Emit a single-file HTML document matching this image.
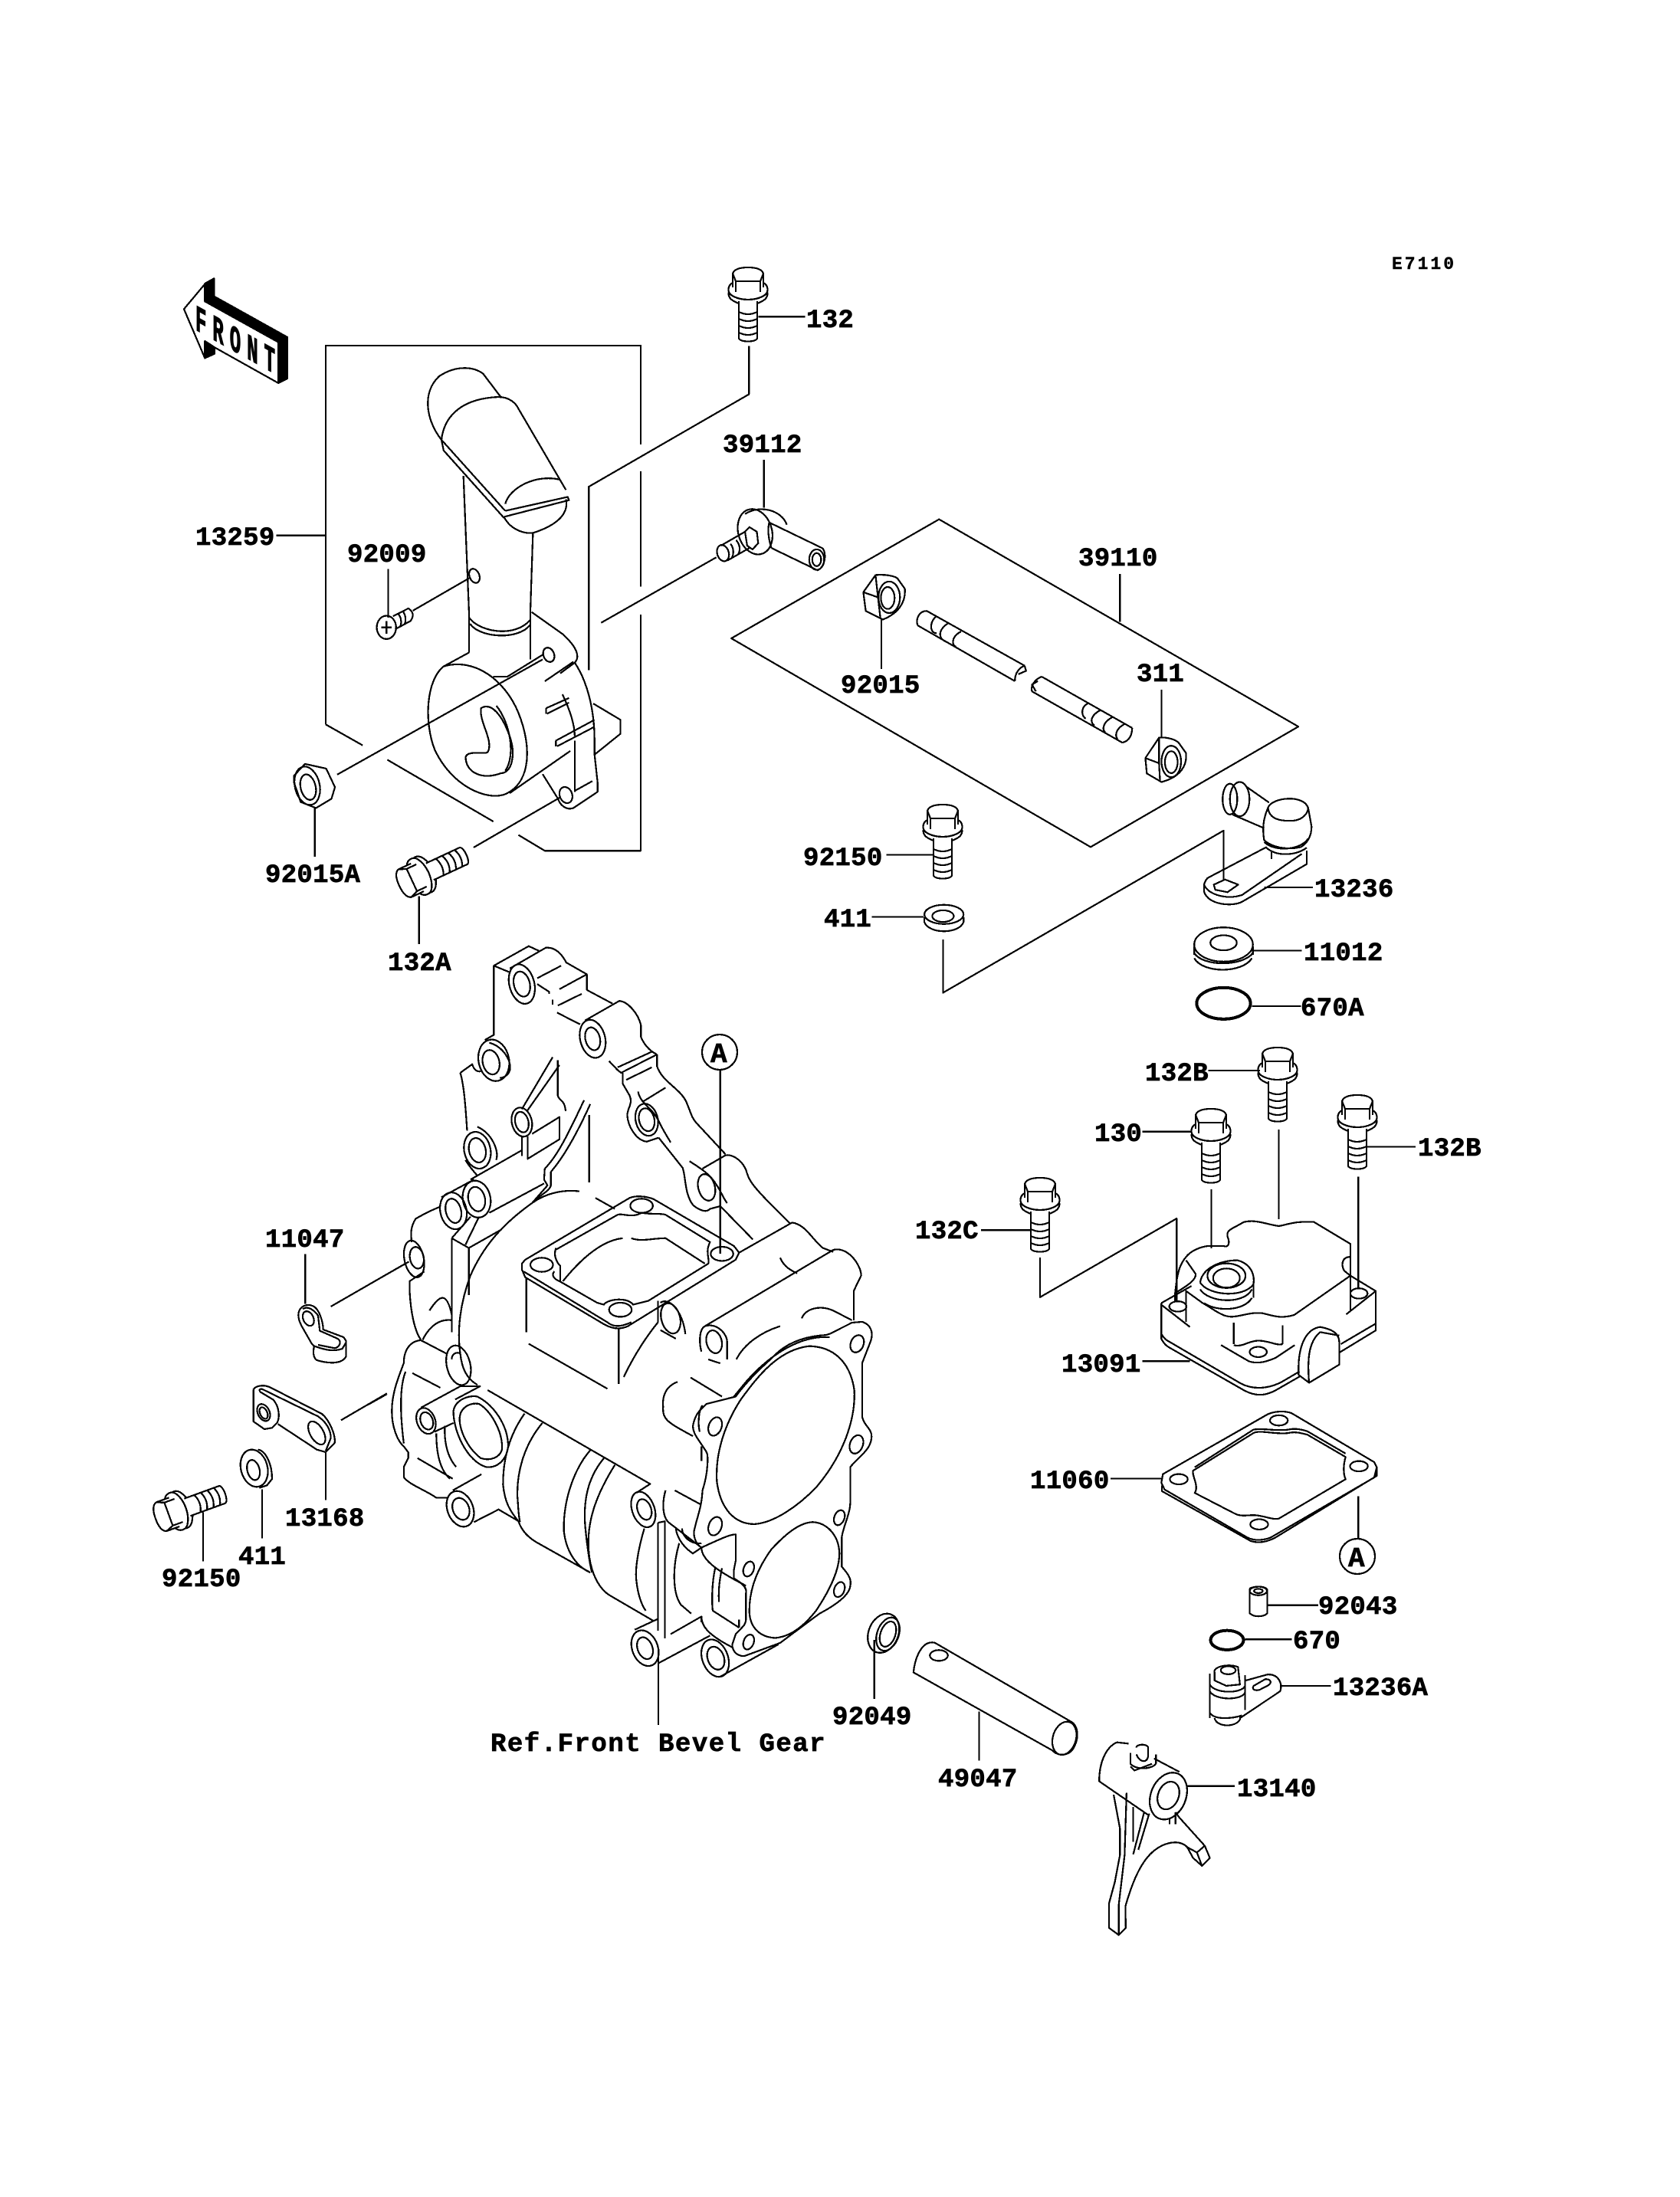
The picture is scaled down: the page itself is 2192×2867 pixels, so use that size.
<!DOCTYPE html>
<html><head><meta charset="utf-8"><title>Diagram</title>
<style>
html,body{margin:0;padding:0;background:#fff}
svg{display:block}
path,ellipse{vector-effect:non-scaling-stroke;fill:none;stroke:#000;stroke-width:2.2;stroke-linejoin:round;stroke-linecap:butt;shape-rendering:crispEdges}
.t{font:bold 34px "Liberation Mono",monospace;fill:#000;stroke:#000;stroke-width:.7;letter-spacing:.3px}
</style></head><body>
<svg xmlns="http://www.w3.org/2000/svg" width="2192" height="2867" viewBox="0 0 2192 2867">
<rect width="2192" height="2867" fill="#fff"/>
<defs>
<g id="b">
<path d="M-20,8L-16,18H16L20,8C18,2 10,0 0,0C-10,0 -18,2 -20,8Z"/>
<path d="M-20,8V26M-16,18V32M16,18V32M20,8V26"/>
<path d="M-20,20C-27,24 -27,32 -22,36C-10,44 10,44 22,36C27,32 27,24 20,20"/>
<path d="M-25,32C-27,40 -20,44 -12,47M25,32C27,40 20,44 12,47"/>
<path d="M-12,44V92C-12,98 12,98 12,92V44"/>
<path d="M-12,58Q0,64 12,58M-12,67Q0,73 12,67M-12,76Q0,82 12,76M-12,85Q0,91 12,85"/>
</g>
</defs>

<!-- bolts -->
<use href="#b" transform="translate(976,349)"/>
<use href="#b" transform="translate(1230,1050)"/>
<use href="#b" transform="translate(1580,1447)"/>
<use href="#b" transform="translate(1667,1367)"/>
<use href="#b" transform="translate(1771,1429)"/>
<use href="#b" transform="translate(1357,1537)"/>
<use href="#b" transform="translate(521,1156) rotate(-115)"/>
<use href="#b" transform="translate(203,1982) rotate(-110)"/>

<!-- zoom 1 region -->
<g transform="translate(200,300) scale(.574,.606)">
<path d="M392,1065L392,249L1108,249L1108,462M1108,520L1108,768M1108,828L1108,1337L890,1337L830,1303M773,1274L532,1141M476,1110L392,1065"/>
<path d="M1354,250V354L990,553V948M1375,187H1482M1388,495V598M1280,705L1018,846M280,658H392M534,730V835M590,820L718,750M367,1245V1350M418,1173L885,925M604,1435V1538M728,1330L925,1222"/>
<path d="M655,452C620,410 610,350 650,315C690,290 730,295 750,310L790,360M655,452C660,410 690,365 780,360C810,358 825,375 830,385L938,560"/>
<path d="M655,452L800,605M660,475L797,620M655,452L660,475M800,605L942,575L945,582L797,618M800,590C810,555 870,525 925,538M797,618C815,650 850,655 865,652C920,635 945,610 938,580"/>
<path d="M705,530L718,830V910M863,652L857,825V925M718,835C740,865 820,880 857,840M720,848C740,878 830,885 857,850"/>
<ellipse cx="730" cy="745" rx="11" ry="16" transform="rotate(-25 730 745)"/>
<path d="M660,940C620,970 615,1060 640,1120C680,1200 760,1230 800,1215C860,1190 860,1110 830,1040C800,970 730,920 660,940ZM660,940L718,910M773,962H805L885,915"/>
<path d="M860,823L930,870C965,900 970,920 958,932M925,955L958,932C985,970 1003,1030 1003,1100V1130L1010,1190V1210L955,1245C940,1250 925,1240 920,1225L885,1172M810,1213L948,1122"/>
<ellipse cx="899" cy="915" rx="12" ry="16" transform="rotate(-25 899 915)"/>
<ellipse cx="938" cy="1217" rx="14" ry="18" transform="rotate(-25 938 1217)"/>
<path d="M890,972L955,930M930,1000C950,1040 958,1070 958,1090M893,1030L945,1008M895,1042L945,1018M893,1030V1042M915,1100L1003,1055M918,1112L1003,1070M915,1100V1112M958,1100V1210M958,1208L998,1187M1000,1020L1062,1055V1085L1003,1130"/>
<path d="M745,1030C770,1015 795,1050 810,1090C825,1130 815,1170 790,1170C750,1185 710,1170 710,1135C715,1120 750,1130 760,1125C775,1100 740,1060 745,1030ZM780,1025C810,1060 825,1130 800,1165"/>
<path d="M320,1175L345,1150L393,1160L413,1200L405,1225L370,1245L335,1232L320,1190Z"/>
<ellipse cx="350" cy="1197" rx="28" ry="42" transform="rotate(-15 350 1197)"/>
<ellipse cx="352" cy="1200" rx="17" ry="28" transform="rotate(-15 352 1200)"/>
<ellipse cx="530" cy="856" rx="22" ry="25"/>
<path d="M518,856H542M530,842V870M545,832L580,815C595,825 590,835 585,842L550,860M556,826C565,835 565,850 560,855M567,821C575,830 575,845 570,850"/>
<ellipse cx="1295" cy="696" rx="13" ry="18" transform="rotate(-20 1295 696)"/>
<path d="M1290,680L1345,650M1305,712L1355,685M1312,676C1320,685 1320,698 1315,706M1325,668C1335,680 1335,692 1328,700"/>
<ellipse cx="1368" cy="650" rx="38" ry="50" transform="rotate(-20 1368 650)"/>
<path d="M1345,650L1355,640L1372,650L1375,675L1362,688L1350,680ZM1345,612C1380,590 1430,605 1440,635M1400,630L1520,685C1530,690 1530,725 1510,733L1405,685M1400,630C1395,650 1400,670 1405,685"/>
<ellipse cx="1508" cy="710" rx="17" ry="22"/>
<ellipse cx="1508" cy="710" rx="10" ry="14"/>
</g>

<!-- zoom 2 region -->
<g transform="translate(900,650) scale(.6378,.4464)">
<path d="M510,62L1245,668L820,1020L85,410ZM880,222V362"/>
<path d="M380,225C400,222 420,228 425,235L440,265C442,300 430,335 395,355L360,330L355,275ZM355,275L385,290L390,352M380,225L385,290"/>
<ellipse cx="408" cy="290" rx="22" ry="46"/>
<ellipse cx="405" cy="292" rx="14" ry="32"/>
<path d="M392,355V500"/>
<path d="M960,700C980,698 995,708 1000,715L1015,745C1018,780 1005,815 965,830L935,805L932,760ZM932,760L960,775L962,828M960,700V775"/>
<ellipse cx="985" cy="770" rx="20" ry="46"/>
<ellipse cx="985" cy="772" rx="13" ry="32"/>
<path d="M965,560V700"/>
<path d="M485,330L685,490M466,372L665,535M485,330C470,330 462,350 466,372M685,490C675,495 665,510 665,535M685,490L688,505L672,515M505,345C490,360 490,395 505,395M530,365C510,380 505,410 525,420M555,390C535,405 535,430 545,435"/>
<path d="M720,522L905,672M700,565L885,715M720,522C705,530 697,550 700,565M905,672C905,690 900,710 885,715M815,600C800,610 800,635 810,645M840,620C820,635 818,655 828,665M865,640C845,655 843,675 850,685M890,660C870,675 870,695 875,705M712,535L700,545L708,565"/>
<path d="M402,1043H500M372,1224H478"/>
<ellipse cx="520" cy="1217" rx="40" ry="28"/>
<ellipse cx="518" cy="1222" rx="22" ry="17"/>
<path d="M480,1225V1240C490,1275 550,1275 560,1240V1225"/>
<path d="M518,1290V1446L1092,972V1115"/>
<path d="M1183,905C1190,875 1255,865 1265,905L1272,960C1272,990 1262,1010 1250,1020C1220,1030 1190,1020 1175,1000C1170,960 1175,930 1183,905ZM1183,905C1185,940 1210,945 1235,943C1255,940 1265,920 1265,905"/>
<path d="M1140,845L1185,890M1110,925L1175,965"/>
<ellipse cx="1105" cy="880" rx="15" ry="45"/>
<ellipse cx="1125" cy="880" rx="20" ry="50"/>
<path d="M1175,1005C1195,1035 1250,1030 1265,995M1178,1020C1200,1050 1240,1045 1262,1022M1190,1035V1055M1060,1110L1180,1020M1262,1030V1070L1130,1180C1110,1195 1060,1190 1052,1150V1130C1055,1115 1060,1110 1060,1110M1252,1040L1130,1160C1100,1175 1060,1160 1052,1130"/>
<path d="M1072,1130L1095,1115L1122,1130L1100,1152L1075,1145Z"/>
<path d="M1175,1138H1275"/>
<ellipse cx="1092" cy="1305" rx="60" ry="50"/>
<ellipse cx="1092" cy="1300" rx="27" ry="22"/>
<path d="M1032,1310V1335M1152,1310V1335M1032,1330C1050,1370 1130,1370 1152,1330M1032,1345C1050,1390 1130,1390 1150,1345M1152,1323H1252"/>
<ellipse cx="1092" cy="1477" rx="55" ry="46" style="stroke-width:4"/>
<path d="M1150,1485H1250"/>
</g>

<!-- zoom 3 region: upper casing -->
<g transform="translate(480,1200) scale(.4464,.5102)">
<path d="M150,0V62M1030,385V855"/>
<path d="M368,118L470,68L500,80M415,125L520,72C545,70 565,85 580,110L640,140V180M368,118V295L342,308M368,118L415,135"/>
<ellipse cx="450" cy="165" rx="36" ry="52" transform="rotate(-20 450 165)"/>
<ellipse cx="450" cy="165" rx="23" ry="33" transform="rotate(-20 450 165)"/>
<path d="M495,150L565,118M495,165L530,185V190M560,178L640,140M555,220L625,190M540,205V218M553,238L620,268M640,180L715,215M635,258L735,208C760,210 790,240 798,270V300C805,315 820,335 845,345"/>
<ellipse cx="657" cy="305" rx="36" ry="50" transform="rotate(-20 657 305)"/>
<ellipse cx="657" cy="305" rx="21" ry="30" transform="rotate(-20 657 305)"/>
<path d="M705,362L730,385M730,378L830,338M730,385L740,392L845,345M745,392V420L765,450C775,470 760,480 758,500C760,530 785,565 815,568L850,558M755,410L830,378M805,465L870,430"/>
<path d="M845,345V375C860,415 910,430 930,465C945,495 945,505 960,520L1045,600"/>
<path d="M790,440C795,470 830,480 850,515C860,535 875,555 885,570"/>
<ellipse cx="815" cy="512" rx="32" ry="42" transform="rotate(-20 815 512)"/>
<ellipse cx="815" cy="512" rx="22" ry="30" transform="rotate(-20 815 512)"/>
<path d="M850,558L920,635C930,660 925,700 950,730C970,745 990,750 1000,740L1030,733L1125,818M940,618C970,635 1000,650 1020,680C1035,700 1040,715 1050,725"/>
<ellipse cx="990" cy="685" rx="24" ry="35" transform="rotate(-20 990 685)"/>
<path d="M978,637L1045,603C1060,600 1090,610 1105,640C1115,670 1120,680 1235,778"/>
<ellipse cx="368" cy="360" rx="44" ry="54" transform="rotate(-20 368 360)"/>
<ellipse cx="360" cy="365" rx="24" ry="32" transform="rotate(-20 360 365)"/>
<path d="M355,315C395,325 420,360 415,385C410,400 395,405 385,405"/>
<path d="M270,392L305,370C310,385 320,390 330,388M270,392C280,420 285,470 290,540"/>
<ellipse cx="320" cy="590" rx="38" ry="48" transform="rotate(-20 320 590)"/>
<ellipse cx="320" cy="590" rx="24" ry="32" transform="rotate(-20 320 590)"/>
<path d="M320,530C360,545 385,590 375,615M285,615C295,630 310,645 320,655M300,665L450,590"/>
<path d="M540,352L450,485M555,360V450C560,465 575,460 578,490M560,372L465,490"/>
<ellipse cx="450" cy="518" rx="29" ry="38" transform="rotate(-20 450 518)"/>
<ellipse cx="450" cy="518" rx="19" ry="27" transform="rotate(-20 450 518)"/>
<path d="M450,555V605M467,555V612L560,562V505L480,548"/>
<path d="M632,462C600,520 560,600 517,637M650,472C620,530 580,600 535,645M517,637L515,665L525,680L480,725M535,645V680C530,695 510,700 495,715M647,500V672"/>
<ellipse cx="250" cy="745" rx="38" ry="48" transform="rotate(-20 250 745)"/>
<ellipse cx="250" cy="745" rx="22" ry="32" transform="rotate(-20 250 745)"/>
<ellipse cx="318" cy="715" rx="40" ry="48" transform="rotate(-20 318 715)"/>
<ellipse cx="318" cy="715" rx="24" ry="32" transform="rotate(-20 318 715)"/>
<path d="M215,710L310,665M355,750L515,675M300,760L245,815M325,760L285,832M245,815L295,840L390,793M245,815V1055M295,840V960"/>
<path d="M210,735C180,745 160,755 140,765C125,785 125,800 128,825"/>
<ellipse cx="135" cy="868" rx="28" ry="48" transform="rotate(-15 135 868)"/>
<ellipse cx="143" cy="865" rx="20" ry="28" transform="rotate(-15 143 865)"/>
<path d="M165,900L122,925V950C125,1000 135,1050 155,1075M0,935L120,875"/>
<path d="M618,695C570,690 520,700 480,725C400,775 340,830 300,910C270,980 260,1050 270,1110C275,1150 290,1175 320,1190M665,712L722,740"/>
<path d="M450,880L460,870L765,712C785,705 815,708 835,715L1070,835L1085,852L1075,870L760,1040C735,1050 710,1045 690,1035L460,915L450,895ZM455,900L700,1030C720,1045 745,1040 770,1030"/>
<path d="M548,845L730,755C745,750 770,765 800,750M550,840C540,860 555,880 562,885V925M545,900C535,910 545,920 560,925L670,980L690,985C700,970 760,965 775,985L820,975L995,880C1000,870 985,850 1000,825L870,755C850,750 830,755 800,750"/>
<path d="M745,815C690,820 630,860 570,925M770,815C800,825 830,815 870,815L985,880"/>
<ellipse cx="800" cy="732" rx="33" ry="18"/>
<ellipse cx="508" cy="883" rx="33" ry="18"/>
<ellipse cx="1035" cy="855" rx="33" ry="18"/>
<ellipse cx="738" cy="998" rx="33" ry="18"/>
<path d="M463,915V1055M733,1045V1188M470,1085L700,1200M748,1170C780,1110 820,1060 848,1030M848,975V1030"/>
<ellipse cx="885" cy="1020" rx="27" ry="40" transform="rotate(-20 885 1020)"/>
<path d="M855,980C880,965 920,1000 928,1060M855,1050L900,1072"/>
<path d="M1085,852L1240,775C1280,780 1300,820 1330,840L1360,850M985,1040L1360,845C1400,835 1440,880 1442,910L1420,950V1025M1205,865C1215,885 1230,895 1255,905"/>
<ellipse cx="1012" cy="1080" rx="22" ry="30" transform="rotate(-20 1012 1080)"/>
<path d="M985,1040C965,1050 970,1090 975,1105M985,1040C1020,1030 1050,1060 1050,1080V1125M995,1125L1030,1135"/>
<path d="M1077,1125C1100,1085 1150,1055 1205,1040M1268,1020C1280,995 1320,985 1360,1000L1415,1025"/>
<ellipse cx="265" cy="1140" rx="34" ry="52" transform="rotate(-18 265 1140)"/>
<path d="M245,1125C245,1110 260,1105 270,1110"/>
<path d="M180,1000C210,960 230,950 245,1010M160,1075C180,1040 210,1020 245,1025"/>
</g>

<!-- zoom 4 region: lower casing and front face -->
<g transform="translate(480,1700) scale(.4464,.3827)">
<path d="M1352,105L1415,68L1445,65C1470,75 1478,100 1470,130L1445,205V390C1450,420 1475,430 1472,460C1470,500 1440,520 1410,560V680C1410,720 1390,760 1385,800V900C1400,920 1415,940 1410,965C1408,990 1385,1020 1320,1060L1205,1160L1100,1205C1080,1205 1065,1190 1065,1165L1075,1130C1090,1110 1105,1100 1105,1080V990C1110,970 1085,950 1070,940V910L1075,880V790C1060,790 1040,800 975,835C955,820 950,790 955,770C965,720 975,700 978,640C995,580 995,520 990,510C970,470 950,450 950,420C955,380 975,360 990,345L1075,320C1100,280 1140,230 1180,190C1210,150 1260,115 1340,110L1352,105"/>
<path d="M1290,148C1360,150 1410,200 1422,300C1425,400 1390,520 1310,630C1260,690 1190,750 1130,755C1070,755 1030,700 1020,610C1015,520 1040,420 1090,330C1140,250 1200,160 1290,148Z"/>
<path d="M1350,118C1270,110 1180,170 1105,270L1070,320M978,350C965,370 965,420 970,440M975,540V490"/>
<ellipse cx="1430" cy="140" rx="19" ry="30" transform="rotate(15 1430 140)"/>
<ellipse cx="1428" cy="483" rx="19" ry="32" transform="rotate(15 1428 483)"/>
<ellipse cx="1015" cy="422" rx="19" ry="32" transform="rotate(15 1015 422)"/>
<ellipse cx="1015" cy="762" rx="19" ry="32" transform="rotate(15 1015 762)"/>
<path d="M1300,748C1340,750 1375,790 1378,850C1380,910 1350,980 1310,1050C1270,1110 1230,1140 1190,1143C1140,1140 1115,1100 1115,1050C1115,990 1130,920 1180,840C1220,790 1260,750 1300,748Z"/>
<ellipse cx="1378" cy="733" rx="15" ry="26" transform="rotate(15 1378 733)"/>
<ellipse cx="1113" cy="908" rx="15" ry="26" transform="rotate(15 1113 908)"/>
<ellipse cx="1378" cy="978" rx="15" ry="26" transform="rotate(15 1378 978)"/>
<ellipse cx="1113" cy="1157" rx="15" ry="26" transform="rotate(15 1113 1157)"/>
<path d="M350,298L825,618L785,648"/>
<ellipse cx="805" cy="705" rx="33" ry="62" transform="rotate(-15 805 705)"/>
<ellipse cx="808" cy="705" rx="20" ry="36" transform="rotate(-15 808 705)"/>
<path d="M155,128C125,130 105,160 105,205C95,240 70,300 70,370C70,420 85,470 105,490L118,510V530L105,560V595C120,620 170,640 200,665H232M155,128L232,175M130,240L212,290M145,530L248,600M55,312L0,348M110,235C95,280 92,360 105,480"/>
<ellipse cx="170" cy="403" rx="27" ry="45" transform="rotate(-15 170 403)"/>
<ellipse cx="172" cy="403" rx="18" ry="30" transform="rotate(-15 172 403)"/>
<path d="M155,358L270,285H328L255,330M195,440L250,410"/>
<path d="M250,370C255,330 295,315 320,320C370,350 410,420 410,490C405,540 375,565 345,560C290,540 250,440 250,370ZM268,395C270,355 300,340 325,345C360,370 395,440 392,500C385,530 355,540 330,530C295,500 268,440 268,395Z"/>
<path d="M200,445C200,510 210,570 240,600M225,420C222,480 235,530 258,560"/>
<ellipse cx="270" cy="703" rx="38" ry="62" transform="rotate(-15 270 703)"/>
<ellipse cx="272" cy="703" rx="24" ry="38" transform="rotate(-15 272 703)"/>
<path d="M248,640L332,585M310,748L382,705L445,748"/>
<path d="M458,378C420,440 395,520 395,620C400,680 415,710 440,745M440,745C450,780 470,800 490,815L650,920M510,410C460,480 435,570 437,660C440,700 440,730 445,748M650,503C600,570 570,680 573,780C580,850 610,900 650,920M690,530C640,600 630,680 635,760C640,830 650,900 655,920M722,553C670,650 640,740 645,840C650,930 680,980 710,1000L835,1085M808,770C790,840 780,910 785,950C790,1000 800,1030 812,1050"/>
<ellipse cx="810" cy="1178" rx="38" ry="62" transform="rotate(-15 810 1178)"/>
<ellipse cx="810" cy="1178" rx="22" ry="38" transform="rotate(-15 810 1178)"/>
<path d="M780,1115L848,1078M848,750L870,745M848,750V1118M868,745V1145M848,1230L1000,1135M885,1130L975,1070V1090M849,1180V1440"/>
<path d="M870,640C860,680 860,730 880,750L975,835M897,640L973,688M900,770C905,810 930,840 950,855L975,835M918,770C920,800 945,825 975,820M910,820C890,900 890,990 915,1030L945,1060"/>
<path d="M975,835C975,880 1030,920 1105,965M975,1070C975,1100 990,1130 1065,1175M1015,905C1005,960 1005,1020 1008,1050L1085,1108M1035,905C1025,960 1025,990 1026,1020M1085,1080V1108"/>
<ellipse cx="1015" cy="1212" rx="38" ry="65" transform="rotate(-15 1015 1212)"/>
<ellipse cx="1017" cy="1212" rx="24" ry="40" transform="rotate(-15 1017 1212)"/>
<path d="M1030,1275L1200,1165M863,355C860,400 880,410 950,455M905,270C870,285 860,320 863,355M943,255L1035,320"/>
<ellipse cx="1507" cy="1127" rx="44" ry="68" transform="rotate(15 1507 1127)"/>
<ellipse cx="1520" cy="1130" rx="32" ry="58" transform="rotate(15 1520 1130)"/>
<ellipse cx="1520" cy="1130" rx="22" ry="44" transform="rotate(15 1520 1130)"/>
<path d="M1480,1150V1350"/>
</g>

<!-- zoom 5 region -->
<g transform="translate(1250,1350) scale(.4145,.4464)">
<path d="M640,785L735,735M640,785V890C650,905 655,910 665,915L900,1040C940,1060 970,1055 1000,1040L1075,1000M640,875C650,890 655,893 665,898L890,1020C930,1040 980,1035 1020,1015L1075,985M640,790L730,855"/>
<path d="M1222,818L1315,750L1235,705M1315,750V865L1200,930M1315,845L1205,905"/>
<ellipse cx="692" cy="795" rx="27" ry="15"/>
<ellipse cx="1262" cy="757" rx="27" ry="15"/>
<ellipse cx="945" cy="928" rx="27" ry="15"/>
<path d="M718,650C730,635 760,620 790,618L835,618C855,625 855,605 848,590C845,570 860,570 900,548C940,540 970,555 1010,560C1040,555 1060,545 1120,548L1235,612V650C1210,650 1205,670 1215,690L1235,705L1058,820C1020,830 1000,825 960,815C920,810 890,825 860,825C830,825 800,800 770,785L718,750V840M718,650C700,670 690,690 683,760V780M718,660L748,700C750,715 730,730 685,755M1235,612V810"/>
<ellipse cx="845" cy="705" rx="60" ry="36"/>
<ellipse cx="845" cy="712" rx="42" ry="28"/>
<path d="M762,725C770,680 830,660 880,660C920,670 935,700 930,730V770M762,725C790,765 900,770 930,730M762,745C790,785 900,790 925,745M775,785C810,810 900,810 925,770"/>
<path d="M868,842V905M1022,850V905M828,908L915,955C945,965 975,955 1000,945L1060,908M868,908C895,915 915,895 945,895C980,895 1000,910 1022,905"/>
<path d="M1072,965C1075,900 1100,860 1140,855C1170,860 1200,870 1200,900V965L1105,1018L1072,995V965M1105,1018C1100,960 1100,900 1140,870L1200,880"/>
<path d="M258,652V768L688,538V780M797,452V625M1010,278V540M1260,415V745M788,105H950M580,284H735M1288,328H1440M72,572H230M580,955H730"/>
<path d="M645,1285L975,1110C1000,1100 1030,1100 1050,1107L1310,1250L1318,1265L1310,1295L985,1470C960,1480 930,1480 910,1470L650,1330L640,1310ZM642,1318V1335L920,1480C950,1490 980,1480 1000,1470L1318,1290V1265"/>
<path d="M740,1275L930,1165C950,1155 1000,1170 1040,1165C1060,1160 1080,1165 1100,1170L1220,1235C1215,1250 1210,1280 1220,1300L1010,1415C990,1420 960,1405 930,1405C910,1405 890,1410 870,1400L745,1340C760,1320 735,1290 740,1275ZM745,1265L930,1155C960,1150 1000,1160 1040,1155C1060,1150 1085,1155 1100,1160L1220,1225"/>
<ellipse cx="1010" cy="1128" rx="28" ry="15"/>
<ellipse cx="1262" cy="1262" rx="28" ry="15"/>
<ellipse cx="695" cy="1300" rx="28" ry="15"/>
<ellipse cx="948" cy="1432" rx="28" ry="15"/>
<path d="M480,1298H645M1260,1350V1475"/>
</g>

<!-- zoom 6 region -->
<g transform="translate(1100,2000) scale(.5102,.3508)">
<path d="M1040,210C1040,200 1085,195 1085,215V300C1075,315 1050,315 1040,300Z"/>
<ellipse cx="1062" cy="217" rx="22" ry="16"/>
<ellipse cx="1062" cy="217" rx="11" ry="8"/>
<path d="M1087,270H1215"/>
<ellipse cx="982" cy="400" rx="42" ry="36" style="stroke-width:4"/>
<path d="M1028,397H1148"/>
<path d="M950,520C945,500 985,485 1010,500L1015,565L980,570L950,550Z"/>
<ellipse cx="985" cy="512" rx="19" ry="15"/>
<path d="M938,525V690M1028,530V660M938,565C950,600 1020,600 1028,570M938,590C950,625 1020,625 1028,595M938,670C950,700 1000,690 1020,680M950,690C955,725 1005,725 1015,695V685"/>
<path d="M1030,550L1085,528C1110,525 1125,555 1118,590L1015,690M1050,570L1080,545C1095,545 1098,560 1085,570L1065,585C1050,590 1045,580 1050,570ZM1120,570H1248"/>
<path d="M220,410C205,415 185,450 180,520L535,810C550,835 580,830 590,800C605,760 600,720 585,705L235,410C230,408 225,408 220,410Z"/>
<ellipse cx="566" cy="765" rx="30" ry="62" transform="rotate(8 566 765)"/>
<ellipse cx="245" cy="457" rx="23" ry="20"/>
<path d="M348,665V848"/>
<path d="M80,400V618"/>
<path d="M700,780C670,800 655,860 655,925L780,1050M700,780L730,785M795,840L860,890"/>
<path d="M750,800C750,785 780,785 780,800V830M735,820V860C750,885 790,880 800,860V825M750,825C760,860 780,855 780,830M735,870L745,885L790,860"/>
<ellipse cx="832" cy="980" rx="46" ry="88" transform="rotate(10 832 980)"/>
<ellipse cx="832" cy="978" rx="27" ry="52" transform="rotate(10 832 978)"/>
<path d="M880,943H1002"/>
<path d="M692,975L708,1100V1200L695,1300L680,1380V1470L705,1497L723,1470L722,1390C740,1300 760,1230 790,1190C820,1150 860,1140 880,1170L895,1210L918,1240L938,1210L925,1165L860,1060L850,1040M725,968L720,1200L705,1385V1495M742,1020V1150M770,1040L742,1197M783,1045L755,1180M835,1060V1085M850,1040V1085M880,1170L905,1190L918,1240M905,1190L925,1165"/>
</g>

<!-- zoom 7 region -->
<g transform="translate(180,1600) scale(.3333,.3333)">
<path d="M655,110V305M630,335C640,305 680,300 700,325C715,345 725,380 725,405L805,435L815,450V510C800,540 750,540 700,525C685,515 685,490 690,470L680,460L640,390C630,370 625,350 630,335ZM645,325C665,310 690,330 705,350L712,410L780,440C800,450 790,475 770,478L705,465M690,470C720,480 760,495 800,480L815,455M755,315L1050,145"/>
<ellipse cx="667" cy="362" rx="20" ry="30" transform="rotate(-25 667 362)"/>
<path d="M452,640C460,625 490,620 515,630L720,735C750,760 775,820 770,850L735,885L700,875L548,775M452,640V765L495,795L525,790L545,770C555,750 555,710 530,680L480,650C470,640 480,635 490,640L705,745C740,770 755,800 755,830L735,880"/>
<ellipse cx="492" cy="730" rx="23" ry="35" transform="rotate(-25 492 730)"/>
<ellipse cx="492" cy="732" rx="14" ry="24" transform="rotate(-25 492 732)"/>
<ellipse cx="700" cy="810" rx="26" ry="50" transform="rotate(-30 700 810)"/>
<path d="M735,880V1073M795,760L975,655"/>
<ellipse cx="455" cy="948" rx="52" ry="74" transform="rotate(-15 455 948)"/>
<ellipse cx="452" cy="955" rx="24" ry="40" transform="rotate(-15 452 955)"/>
<path d="M470,875C500,880 525,930 525,990L505,1015L475,1025M486,1030V1223M255,1120V1313"/>
</g>

<!-- front arrow -->
<g transform="translate(220,350) scale(.3333,.3333)">
<path d="M142,60L178,40V110L465,270V432L430,450V290L142,130Z" style="fill:#000"/>
<path d="M142,285L180,305V335L142,352Z" style="fill:#000"/>
<path d="M60,160L142,62V130L430,290V450L180,310L142,285V352Z" style="fill:#fff"/>
</g>
<text transform="matrix(.5,.278,0,1,255,430)" style="font:bold 48px 'Liberation Mono',monospace;letter-spacing:16px;stroke:#000;stroke-width:1.5">FRONT</text>

<!-- A circles -->
<ellipse cx="939" cy="1373" rx="23" ry="23"/>
<ellipse cx="1771" cy="2031" rx="23" ry="23"/>
<text x="927" y="1386" class="t" style="font-size:36px">A</text>
<text x="1759" y="2044" class="t" style="font-size:36px">A</text>

<!-- labels -->
<text class="t" x="1052" y="427">132</text>
<text class="t" x="943" y="590">39112</text>
<text class="t" x="255" y="711">13259</text>
<text class="t" x="453" y="733">92009</text>
<text class="t" x="346" y="1151">92015A</text>
<text class="t" x="506" y="1266">132A</text>
<text class="t" x="1407" y="738">39110</text>
<text class="t" x="1097" y="904">92015</text>
<text class="t" x="1483" y="889">311</text>
<text class="t" x="1048" y="1129">92150</text>
<text class="t" x="1075" y="1209">411</text>
<text class="t" x="1715" y="1170">13236</text>
<text class="t" x="1701" y="1253">11012</text>
<text class="t" x="1697" y="1325">670A</text>
<text class="t" x="1494" y="1410">132B</text>
<text class="t" x="1428" y="1489">130</text>
<text class="t" x="1850" y="1508">132B</text>
<text class="t" x="1194" y="1616">132C</text>
<text class="t" x="1385" y="1790">13091</text>
<text class="t" x="1344" y="1942">11060</text>
<text class="t" x="1720" y="2106">92043</text>
<text class="t" x="1687" y="2151">670</text>
<text class="t" x="1739" y="2212">13236A</text>
<text class="t" x="1086" y="2250">92049</text>
<text class="t" x="1224" y="2331">49047</text>
<text class="t" x="1614" y="2344">13140</text>
<text class="t" x="346" y="1627">11047</text>
<text class="t" x="372" y="1991">13168</text>
<text class="t" x="311" y="2041">411</text>
<text class="t" x="211" y="2070">92150</text>
<text class="t" x="640" y="2285" style="letter-spacing:1.5px">Ref.Front Bevel Gear</text>
<text class="t" x="1816" y="351" style="font-size:23px;letter-spacing:3px;stroke-width:.4">E7110</text>
</svg>
</body></html>
